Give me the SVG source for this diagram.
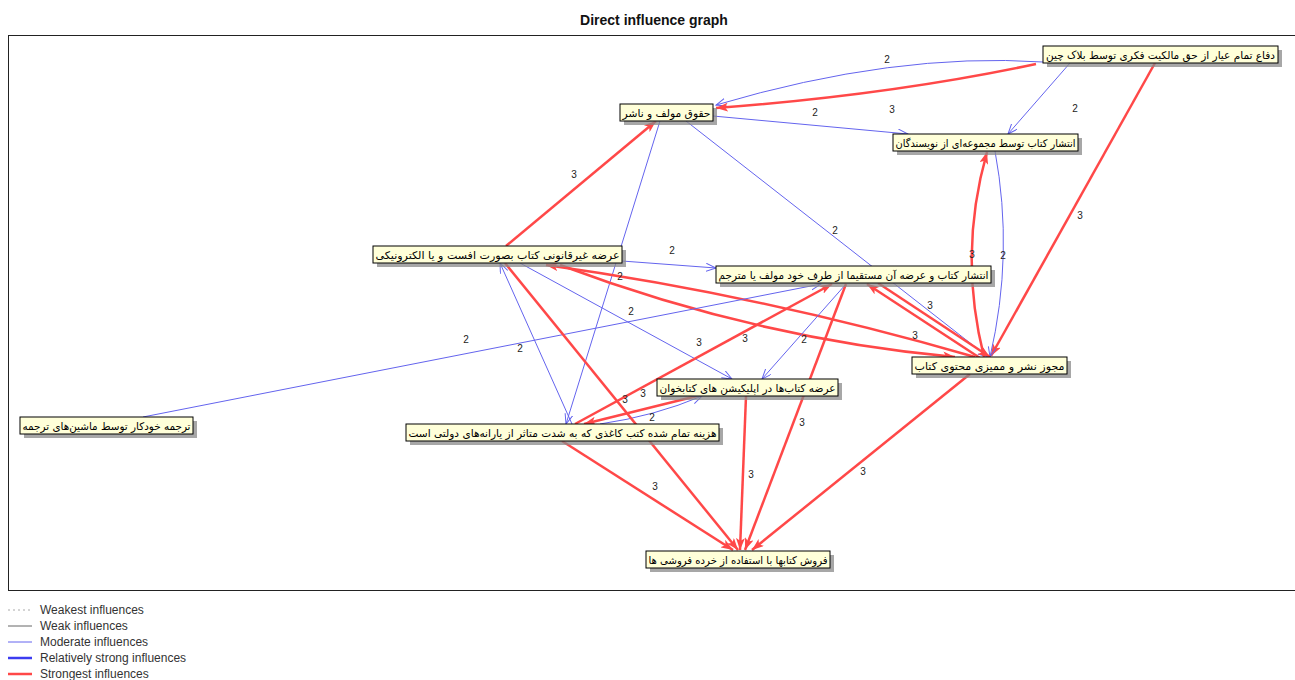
<svg xmlns="http://www.w3.org/2000/svg" width="1295" height="680" viewBox="0 0 1295 680">
<defs>
<marker id="ar" markerUnits="userSpaceOnUse" markerWidth="13" markerHeight="9" refX="12" refY="4.5" orient="auto"><path d="M0,0 L12,4.5 L0,9 L3,4.5 z" fill="#ff4848"/></marker>
<marker id="ab" markerUnits="userSpaceOnUse" markerWidth="11" markerHeight="9" refX="10" refY="4" orient="auto"><path d="M0,0 L10,4 L0,8" fill="none" stroke="#6464ee" stroke-width="1"/></marker>
</defs>
<style>
.bg{fill:#fff}
.title{font-family:"Liberation Sans",Arial,sans-serif;font-size:14px;font-weight:bold;fill:#111}
.frame{fill:none;stroke:#222;stroke-width:1}
.r{fill:none;stroke:#ff4848;stroke-width:2.5;marker-end:url(#ar)}
.b{fill:none;stroke:#6464ee;stroke-width:1;marker-end:url(#ab)}
.lbl{font-family:"Liberation Sans",Arial,sans-serif;font-size:10px;fill:#222;text-anchor:middle}
.box{fill:#ffffd9;stroke:#000;stroke-width:1}
.sh{fill:#8a8a8a;opacity:0.75}
.nt{font-family:"DejaVu Sans","Noto Sans",sans-serif;font-size:10.5px;fill:#000;text-anchor:middle}
.lg{font-family:"Liberation Sans",Arial,sans-serif;font-size:12px;fill:#333}
</style>
<rect class="bg" x="0" y="0" width="1295" height="680"/>
<text class="title" x="654" y="25" text-anchor="middle">Direct influence graph</text>
<rect class="frame" x="8.5" y="35.5" width="1300" height="555"/>

<g id="connectors">
<path class="b" d="M1043,62 Q895,52 716,105"/>
<path class="r" d="M1036,64 Q890,95 716,108"/>
<path class="b" d="M713,116 L908,134"/>
<path class="b" d="M1070,63 L1008,134"/>
<path class="r" d="M1155,63 L991,356"/>
<path class="r" d="M506,246 L656,121"/>
<path class="b" d="M686,121 L988,357"/>
<path class="b" d="M660,121 L566,424"/>
<path class="b" d="M622,261 L716,268"/>
<path class="r" d="M984,357 Q958,254 987,152"/>
<path class="b" d="M995,151 Q1014,254 990,357"/>
<path class="r" d="M975,357 Q761,295 546,265"/>
<path class="r" d="M560,265 Q757,339 955,357"/>
<path class="r" d="M878,283 L990,357"/>
<path class="r" d="M980,358 L867,284"/>
<path class="b" d="M143,417 L821,284"/>
<path class="b" d="M520,263 L732,379"/>
<path class="b" d="M572,424 L500,263"/>
<path class="r" d="M575,424 L832,284"/>
<path class="b" d="M846,284 L762,379"/>
<path class="r" d="M697,396 L584,424"/>
<path class="b" d="M600,424 Q655,416 702,396"/>
<path class="r" d="M505,263 L738,550"/>
<path class="r" d="M562,441 L733,550"/>
<path class="r" d="M746,396 L740,550"/>
<path class="r" d="M846,284 L745,550"/>
<path class="r" d="M970,374 L752,550"/>
<g id="edge-labels">
<text class="lbl" x="887" y="63">2</text>
<text class="lbl" x="892" y="113">3</text>
<text class="lbl" x="815" y="116">2</text>
<text class="lbl" x="1075" y="112">2</text>
<text class="lbl" x="574" y="178">3</text>
<text class="lbl" x="1080" y="219">3</text>
<text class="lbl" x="835" y="234">2</text>
<text class="lbl" x="672" y="254">2</text>
<text class="lbl" x="972" y="258">3</text>
<text class="lbl" x="1003" y="259">2</text>
<text class="lbl" x="620" y="280">2</text>
<text class="lbl" x="631" y="315">2</text>
<text class="lbl" x="930" y="309">3</text>
<text class="lbl" x="915" y="339">3</text>
<text class="lbl" x="466" y="343">2</text>
<text class="lbl" x="520" y="352">2</text>
<text class="lbl" x="699" y="346">3</text>
<text class="lbl" x="745" y="342">3</text>
<text class="lbl" x="804" y="343">2</text>
<text class="lbl" x="625" y="403">3</text>
<text class="lbl" x="643" y="397">3</text>
<text class="lbl" x="652" y="421">2</text>
<text class="lbl" x="802" y="426">3</text>
<text class="lbl" x="751" y="478">3</text>
<text class="lbl" x="655" y="490">3</text>
<text class="lbl" x="863" y="475">3</text>
</g>
</g>

<g id="nodeA"><rect class="sh" x="1047" y="50" width="235" height="17"/><rect class="box" x="1043" y="46" width="235" height="17"/><text class="nt" x="1160.5" y="58.5" textLength="229" lengthAdjust="spacingAndGlyphs">دفاع تمام عیار از حق مالکیت فکری توسط بلاک چین</text></g>
<g id="nodeB"><rect class="sh" x="624" y="108" width="93" height="17"/><rect class="box" x="620" y="104" width="93" height="17"/><text class="nt" x="666.5" y="116.5" textLength="88" lengthAdjust="spacingAndGlyphs">حقوق مولف و ناشر</text></g>
<g id="nodeC"><rect class="sh" x="897" y="138" width="185" height="17"/><rect class="box" x="893" y="134" width="185" height="17"/><text class="nt" x="985.5" y="146.5" textLength="180" lengthAdjust="spacingAndGlyphs">انتشار کتاب توسط مجموعه‌ای از نویسندگان</text></g>
<g id="nodeD"><rect class="sh" x="377" y="250" width="249" height="17"/><rect class="box" x="373" y="246" width="249" height="17"/><text class="nt" x="497.5" y="258.5" textLength="244" lengthAdjust="spacingAndGlyphs">عرضه غیرقانونی کتاب بصورت افست و یا الکترونیکی</text></g>
<g id="nodeE"><rect class="sh" x="720" y="270" width="275" height="17"/><rect class="box" x="716" y="266" width="275" height="17"/><text class="nt" x="853.5" y="278.5" textLength="270" lengthAdjust="spacingAndGlyphs">انتشار کتاب و عرضه آن مستقیما از طرف خود مولف یا مترجم</text></g>
<g id="nodeF"><rect class="sh" x="916" y="361" width="155" height="17"/><rect class="box" x="912" y="357" width="155" height="17"/><text class="nt" x="989.5" y="369.5" textLength="150" lengthAdjust="spacingAndGlyphs">مجوز نشر و ممیزی محتوی کتاب</text></g>
<g id="nodeG"><rect class="sh" x="661" y="383" width="181" height="17"/><rect class="box" x="657" y="379" width="181" height="17"/><text class="nt" x="747.5" y="391.5" textLength="176" lengthAdjust="spacingAndGlyphs">عرضه کتاب‌ها در اپلیکیشن های کتابخوان</text></g>
<g id="nodeH"><rect class="sh" x="410" y="428" width="313" height="17"/><rect class="box" x="406" y="424" width="313" height="17"/><text class="nt" x="562.5" y="436.5" textLength="308" lengthAdjust="spacingAndGlyphs">هزینه تمام شده کتب کاغذی که به شدت متاثر از یارانه‌های دولتی است</text></g>
<g id="nodeI"><rect class="sh" x="24" y="421" width="173" height="17"/><rect class="box" x="20" y="417" width="173" height="17"/><text class="nt" x="106.5" y="429.5" textLength="168" lengthAdjust="spacingAndGlyphs">ترجمه خودکار توسط ماشین‌های ترجمه</text></g>
<g id="nodeJ"><rect class="sh" x="650" y="555" width="184" height="17"/><rect class="box" x="646" y="551" width="184" height="17"/><text class="nt" x="738" y="563.5" textLength="179" lengthAdjust="spacingAndGlyphs">فروش کتابها با استفاده از خرده فروشی ها</text></g>

<g id="legend">
<line x1="8" y1="610" x2="32" y2="610" stroke="#aaa" stroke-width="1" stroke-dasharray="2,3"/>
<text class="lg" x="40" y="614">Weakest influences</text>
<line x1="8" y1="626" x2="32" y2="626" stroke="#666" stroke-width="1"/>
<text class="lg" x="40" y="630">Weak influences</text>
<line x1="8" y1="642" x2="32" y2="642" stroke="#6464ee" stroke-width="1"/>
<text class="lg" x="40" y="646">Moderate influences</text>
<line x1="8" y1="658" x2="32" y2="658" stroke="#3c3cf0" stroke-width="2.5"/>
<text class="lg" x="40" y="662">Relatively strong influences</text>
<line x1="8" y1="674" x2="32" y2="674" stroke="#ff4848" stroke-width="2.5"/>
<text class="lg" x="40" y="678">Strongest influences</text>
</g>
</svg>
